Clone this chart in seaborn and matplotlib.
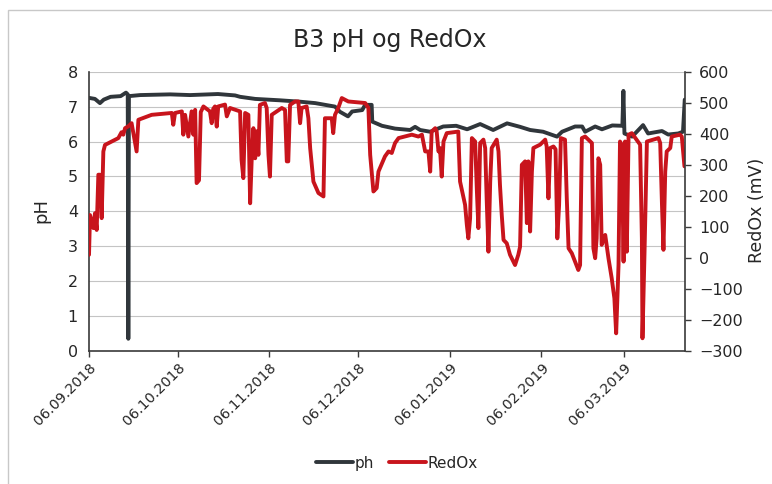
import pandas as pd
import seaborn as sns
import matplotlib.pyplot as plt
import matplotlib.dates as mdates
from matplotlib.patches import Rectangle
from matplotlib.lines import Line2D

# =========================
# data (days counted from the first logging day)
start_date = '2018-09-06'

ph_days = [0, 2, 3.7, 5, 7.3, 10.7, 12.5, 13.1, 13.3, 13.5, 17.3, 27.4, 34.2, 43.6,
           49.4, 51.1, 56.2, 64.6, 71.4, 76.5, 83.2, 84.9, 87.6, 89, 92.4, 93.4,
           95.6, 95.8, 99.1, 103.5, 108.6, 110.3, 112, 115.4, 119.8, 124.2, 127.9,
           132.3, 136.7, 141.4, 145.8, 149.2, 153.6, 158.3, 160, 164.4, 166.8,
           167.8, 171.2, 173.5, 177, 180.4, 180.75, 181.1, 183.7, 187.4, 189.1,
           193.8, 195.9, 199.3, 200.9, 201.5]
ph_values = [7.25, 7.22, 7.1, 7.2, 7.28, 7.3, 7.4, 7.35, 0.35, 7.3, 7.33, 7.35, 7.33,
             7.36, 7.32, 7.28, 7.22, 7.18, 7.14, 7.1, 7.0, 6.85, 6.72, 6.86, 6.9,
             7.05, 7.05, 6.57, 6.45, 6.37, 6.33, 6.42, 6.33, 6.28, 6.43, 6.45, 6.35,
             6.5, 6.33, 6.52, 6.42, 6.33, 6.28, 6.14, 6.28, 6.43, 6.43, 6.28, 6.43,
             6.35, 6.46, 6.45, 7.45, 6.23, 6.14, 6.47, 6.23, 6.3, 6.2, 6.23, 6.28, 7.2]

redox_days = [0.0, 0.34, 1.47, 2.03, 2.59, 3.16, 3.72, 4.28, 4.85, 5.41, 9.92, 11.0,
              11.6, 12.2, 13.3, 14.4, 16.1, 16.7, 21.2, 28.0, 28.5, 29.1, 31.4, 31.9,
              32.5, 33.6, 34.7, 35.3, 35.9, 36.4, 37.2, 37.8, 38.7, 40.9, 41.5, 42.0,
              42.6, 43.2, 43.7, 46.0, 46.6, 47.7, 51.1, 51.6, 52.2, 52.8, 53.9, 54.5,
              55.0, 55.6, 56.2, 56.7, 57.3, 57.8, 59.5, 60.1, 60.7, 61.2, 61.8, 65.2,
              66.3, 66.9, 67.4, 68.0, 69.7, 70.8, 71.4, 71.9, 73.6, 74.2, 74.8, 75.9,
              77.6, 79.3, 79.8, 82.1, 82.6, 83.2, 84.3, 85.5, 87.7, 93.4, 94.5, 95.1,
              96.2, 97.3, 97.9, 100.1, 101.3, 102.4, 103.5, 104.7, 109.2, 111.4, 112.6,
              113.7, 114.8, 115.4, 115.9, 117.1, 117.6, 118.2, 118.7, 119.3, 119.9,
              121.0, 124.9, 125.5, 126.6, 127.2, 127.8, 128.3, 128.9, 129.5, 130.6,
              131.2, 131.7, 132.3, 133.4, 134.0, 134.5, 135.1, 135.7, 136.2, 137.9,
              138.5, 139.0, 139.6, 140.2, 141.3, 142.4, 144.1, 145.2, 145.8, 146.4,
              147.5, 148.1, 148.6, 149.2, 149.8, 150.3, 152.6, 154.3, 154.8, 155.4,
              156.0, 157.1, 157.8, 158.4, 159.0, 159.6, 161.0, 161.6, 162.2, 163.3,
              164.4, 165.5, 166.1, 166.7, 167.8, 170.1, 170.6, 171.2, 171.7, 172.3,
              172.9, 173.4, 174.6, 175.7, 176.8, 177.7, 178.3, 179.1, 179.6, 180.2,
              180.8, 181.3, 181.9, 182.5, 183.6, 186.4, 187.0, 187.2, 187.9, 188.7,
              192.6, 193.2, 193.8, 194.3, 194.9, 195.4, 196.6, 197.1, 199.9, 200.5,
              201.4]
redox_values = [10, 138, 96, 144, 90, 268, 268, 128, 343, 364, 386, 405,
                397, 418, 424, 434, 343, 445, 461, 467, 429, 467, 472, 397,
                461, 391, 472, 397, 477, 241, 250, 470, 488, 472, 434, 480,
                488, 423, 488, 494, 456, 483, 472, 316, 257, 467, 461, 176,
                310, 418, 321, 408, 332, 493, 499, 483, 332, 262, 461, 483,
                477, 311, 311, 493, 504, 504, 434, 483, 488, 450, 354, 246,
                209, 198, 450, 450, 402, 461, 483, 515, 504, 499, 483, 332,
                214, 225, 278, 327, 343, 338, 370, 386, 397, 391, 397,
                343, 343, 278, 407, 418, 407, 343, 354, 262, 375,
                402, 407, 246, 198, 171, 106, 63, 128, 386, 375,
                214, 96, 370, 381, 354, 192, 20, 246, 354, 381,
                343, 235, 139, 58, 47, 10, -23, 10, 36, 300,
                311, 112, 311, 85, 278, 354, 365, 381, 359, 192,
                354, 359, 350, 63, 171, 386, 381, 192, 31, 15,
                -12, -39, -23, 386, 391, 370, 31, -1, 63, 321,
                300, 42, 74, -1, -66, -130, -243, -23, 375, 365,
                -12, 375, 20, 397, 402, 365, 63, -259, 20, 375,
                386, 370, 171, 26, 278, 343, 354, 391, 397, 391,
                295]

ph_ticks = [0, 1, 2, 3, 4, 5, 6, 7, 8]
redox_ticks = [-300, -200, -100, 0, 100, 200, 300, 400, 500, 600]
end_date = '2019-03-26 14:00'

# =========================
# build tables
t0 = pd.to_datetime(start_date)
df_ph = pd.DataFrame({'date': t0 + pd.to_timedelta(ph_days, unit='D'),
                      'ph': ph_values})
df_redox = pd.DataFrame({'date': t0 + pd.to_timedelta(redox_days, unit='D'),
                         'RedOx': redox_values})

# =========================
# PLOTTING
sns.set_style('white')
plt.rcParams['font.family'] = ['DejaVu Sans']

ph_col = '#30363b'
redox_col = '#c8141c'
axis_col = '#3a3a3a'

fig = plt.figure(figsize=(7.72, 4.84), dpi=100)
ax = fig.add_axes([0.1153, 0.2748, 0.772, 0.5771])
ax2 = ax.twinx()

sns.lineplot(data=df_ph, x='date', y='ph', ax=ax, color=ph_col, lw=2.8,
             estimator=None, legend=False)
sns.lineplot(data=df_redox, x='date', y='RedOx', ax=ax2, color=redox_col, lw=2.8,
             estimator=None, legend=False)

ax.set_xlim(t0, pd.to_datetime(end_date))
ax.set_ylim(0, 8)
ax2.set_ylim(-300, 600)
ax.set_yticks(ph_ticks)
ax2.set_yticks(redox_ticks)

# gridlines on the pH scale
ax.yaxis.grid(True, color='#c4c4c4', lw=0.8)
ax.set_axisbelow(True)

ax.xaxis.set_major_locator(mdates.MonthLocator(bymonthday=6))
ax.xaxis.set_major_formatter(mdates.DateFormatter('%d.%m.%Y'))
for lab in ax.get_xticklabels():
    lab.set_rotation(45)
    lab.set_ha('right')
    lab.set_va('top')
    lab.set_rotation_mode('anchor')

ax.set_xlabel('')
ax.set_ylabel('')
ax2.set_ylabel('')

ax.tick_params(axis='x', direction='out', length=4, width=1, color=axis_col,
               labelsize=10.3, pad=3, bottom=True)
ax.tick_params(axis='y', length=0, labelsize=11.5, pad=8)
ax2.tick_params(axis='y', direction='out', length=4, width=1, color=axis_col,
                labelsize=11.5, pad=6, right=True)

for s in ['top', 'right']:
    ax.spines[s].set_visible(False)
for s in ['top', 'left', 'bottom']:
    ax2.spines[s].set_visible(False)
for a, s in [(ax, 'left'), (ax, 'bottom'), (ax2, 'right')]:
    a.spines[s].set_color(axis_col)
    a.spines[s].set_linewidth(1.2)

# texts
fig.text(0.505, 0.917, 'B3 pH og RedOx', ha='center', va='center', fontsize=17)
fig.text(0.054, 0.566, 'pH', rotation=90, ha='center', va='center', fontsize=13)
fig.text(0.981, 0.566, 'RedOx (mV)', rotation=90, ha='center', va='center',
         fontsize=12.5)

# legend under the chart
handles = [Line2D([], [], color=ph_col, lw=2.8), Line2D([], [], color=redox_col, lw=2.8)]
fig.legend(handles, ['ph', 'RedOx'], loc='center', bbox_to_anchor=(0.514, 0.043),
           ncol=2, frameon=False, fontsize=11, handlelength=2.4,
           handletextpad=0.1, columnspacing=1.0)

# chart frame
fig.patches.append(Rectangle((0.0104, -0.2), 1.2, 1.179, transform=fig.transFigure,
                             fill=False, edgecolor='#c8c8c8', lw=1))

fig.savefig('out.png', dpi=100)
plt.close()
